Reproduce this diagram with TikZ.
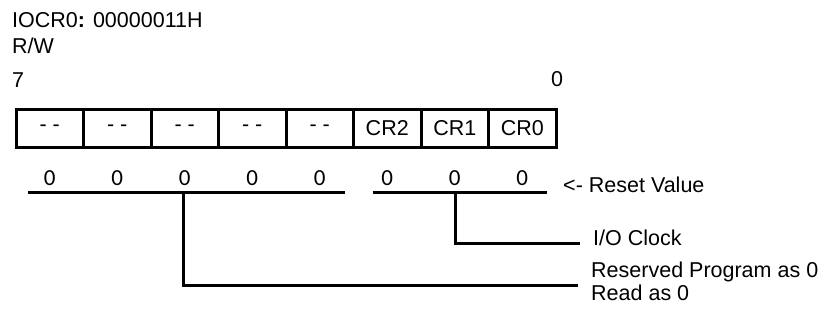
\documentclass[tikz,border=0pt]{standalone}
\usepackage{fontspec}
\setmainfont{Liberation Sans}
\newfontfamily\resetfont{Carlito}
\usepackage{tikz}

\begin{document}
\begin{tikzpicture}[
    x=1pt,y=-1pt,
    bitcell/.style={draw=black,line width=3pt,minimum width=67.5pt,minimum height=38pt,
      inner sep=0pt,font=\fontsize{21.5}{23}\selectfont},
    resetbit/.style={anchor=base,inner sep=0pt,font=\resetfont\fontsize{23}{25}\selectfont},
    plain/.style={anchor=base west,inner sep=0pt,align=left,font=\fontsize{21.5}{23}\selectfont},
    rule/.style={line width=3pt,draw=black}
  ]
    \useasboundingbox (0,0) rectangle (827,324);

    \node[plain] (regname) at (12,27.5) {IOCR0\textbf{:} 00000011H};
    \node[plain] (access) at (12,53) {R/W};
    \node[plain] (msb) at (12,87) {7};
    \node[plain] (lsb) at (551,86) {0};

    \node[bitcell] (bitseven) at (49.75,128.5) {- -};
    \node[bitcell] (bitsix) at (117.25,128.5) {- -};
    \node[bitcell] (bitfive) at (184.75,128.5) {- -};
    \node[bitcell] (bitfour) at (252.25,128.5) {- -};
    \node[bitcell] (bitthree) at (319.75,128.5) {- -};
    \node[bitcell] (bittwo) at (387.25,128.5) {CR2};
    \node[bitcell] (bitone) at (454.75,128.5) {CR1};
    \node[bitcell] (bitzero) at (522.25,128.5) {CR0};

    \node[resetbit] (resetseven) at (bitseven |- 0,185) {0};
    \node[resetbit] (resetsix) at (bitsix |- 0,185) {0};
    \node[resetbit] (resetfive) at (bitfive |- 0,185) {0};
    \node[resetbit] (resetfour) at (bitfour |- 0,185) {0};
    \node[resetbit] (resetthree) at (bitthree |- 0,185) {0};
    \node[resetbit] (resettwo) at (bittwo |- 0,185) {0};
    \node[resetbit] (resetone) at (bitone |- 0,185) {0};
    \node[resetbit] (resetzero) at (bitzero |- 0,185) {0};
    \node[plain] (resetlabel) at (563,192.7) {<- Reset Value};

    \node[plain] (clocklabel) at (593,245) {I/O Clock};
    \node[plain] (reservedlabel) at (591,300) {Reserved Program as 0\\Read as 0};

    % underlines of the two fields
    \coordinate (highstart) at (28,192.7);
    \coordinate (highstop) at (345,192.7);
    \coordinate (lowstart) at (373,192.7);
    \coordinate (lowstop) at (547,192.7);
    \draw[rule] (highstart) -- (highstop);
    \draw[rule] (lowstart) -- (lowstop);

    % leaders to the descriptions
    \coordinate (hightap) at (183,192.7);
    \coordinate (lowtap) at (455,192.7);
    \coordinate (clockend) at (580,243);
    \coordinate (reservedend) at (578,285);
    \draw[rule] (lowtap) |- (clockend);
    \draw[rule] (hightap) |- (reservedend);
  \end{tikzpicture}
\end{document}
